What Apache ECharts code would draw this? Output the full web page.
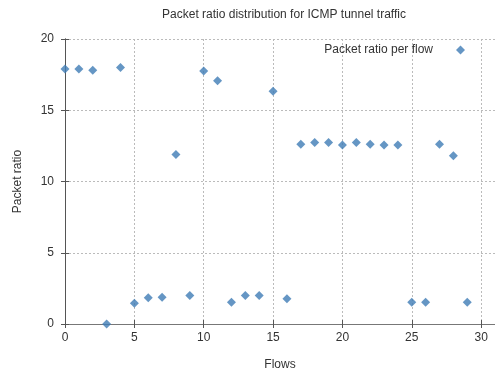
<!DOCTYPE html>
<html>
<head>
<meta charset="utf-8">
<script src="https://cdn.jsdelivr.net/npm/echarts@6/dist/echarts.min.js"></script>
<style>html,body{margin:0;padding:0;background:#fff}#c{width:495px;height:376px}</style>
</head>
<body>
<div id="c"></div>
<script>
const flows = [0,1,2,3,4,5,6,7,8,9,10,11,12,13,14,15,16,17,18,19,20,21,22,23,24,25,26,27,28,29];
const packetRatio = [17.9,17.9,17.8,0,18.0,1.45,1.84,1.88,11.9,2.0,17.75,17.07,1.52,2.0,2.0,16.33,1.77,12.62,12.73,12.73,12.57,12.73,12.62,12.57,12.57,1.52,1.52,12.62,11.81,1.52];
const xTicks = [0,5,10,15,20,25,30];
const seriesName = 'Packet ratio per flow';
const titleText = 'Packet ratio distribution for ICMP tunnel traffic';

const font = 'Liberation Sans, Arial, sans-serif';
const axisCol = '#555';
const chart = echarts.init(document.getElementById('c'));
const points = flows.map((f, i) => [f, packetRatio[i]]);
chart.setOption({
  animation: false,
  textStyle: { fontFamily: font },
  title: { text: titleText, left: 279, textAlign: 'center', top: 4,
    textStyle: { fontFamily: font, fontSize: 12, fontWeight: 'normal', color: '#333' } },
  legend: { right: 25, top: 39, align: 'right', icon: 'diamond', itemWidth: 9, itemHeight: 9,
    textStyle: { fontFamily: font, fontSize: 12, color: '#333', padding: [0, 18, 0, 0] },
    data: [seriesName] },
  grid: { left: 65, right: -2, top: 39, bottom: 47, containLabel: false },
  xAxis: [
    { type: 'value', min: 0, max: 31, interval: 5, name: 'Flows', nameLocation: 'middle', nameGap: 35,
      nameTextStyle: { fontFamily: font, fontSize: 12, color: '#333' },
      axisLine: { lineStyle: { color: axisCol } },
      axisTick: { inside: true, length: 4, customValues: xTicks, lineStyle: { color: axisCol } },
      axisLabel: { customValues: xTicks, fontFamily: font, fontSize: 12, color: '#333', margin: 8 },
      splitLine: { show: true, lineStyle: { type: [2, 2], color: '#bbb' } } },
    { type: 'value', position: 'top', min: 0, max: 31, interval: 5,
      axisLine: { show: true, lineStyle: { color: '#777' } },
      axisTick: { show: true, inside: true, length: 4, customValues: xTicks, lineStyle: { color: axisCol } },
      axisLabel: { show: false }, splitLine: { show: false } }
  ],
  yAxis: [
    { type: 'value', min: 0, max: 20, interval: 5, name: 'Packet ratio', nameLocation: 'middle', nameGap: 41,
      nameTextStyle: { fontFamily: font, fontSize: 12, color: '#333' },
      axisLine: { show: true, lineStyle: { color: axisCol } },
      axisTick: { show: true, inside: true, length: 4, lineStyle: { color: axisCol } },
      axisLabel: { fontFamily: font, fontSize: 12, color: '#333', margin: 11 },
      splitLine: { show: true, lineStyle: { type: [2, 2], color: '#bbb' } } },
    { type: 'value', position: 'right', min: 0, max: 20, interval: 5,
      axisLine: { show: true, lineStyle: { color: axisCol } },
      axisTick: { show: true, inside: true, length: 4, lineStyle: { color: axisCol } },
      axisLabel: { show: false }, splitLine: { show: false } }
  ],
  series: [{ name: seriesName, type: 'scatter', symbol: 'diamond', symbolSize: 9,
    itemStyle: { color: '#3f7cb5' }, data: points }]
});
</script>
</body>
</html>
